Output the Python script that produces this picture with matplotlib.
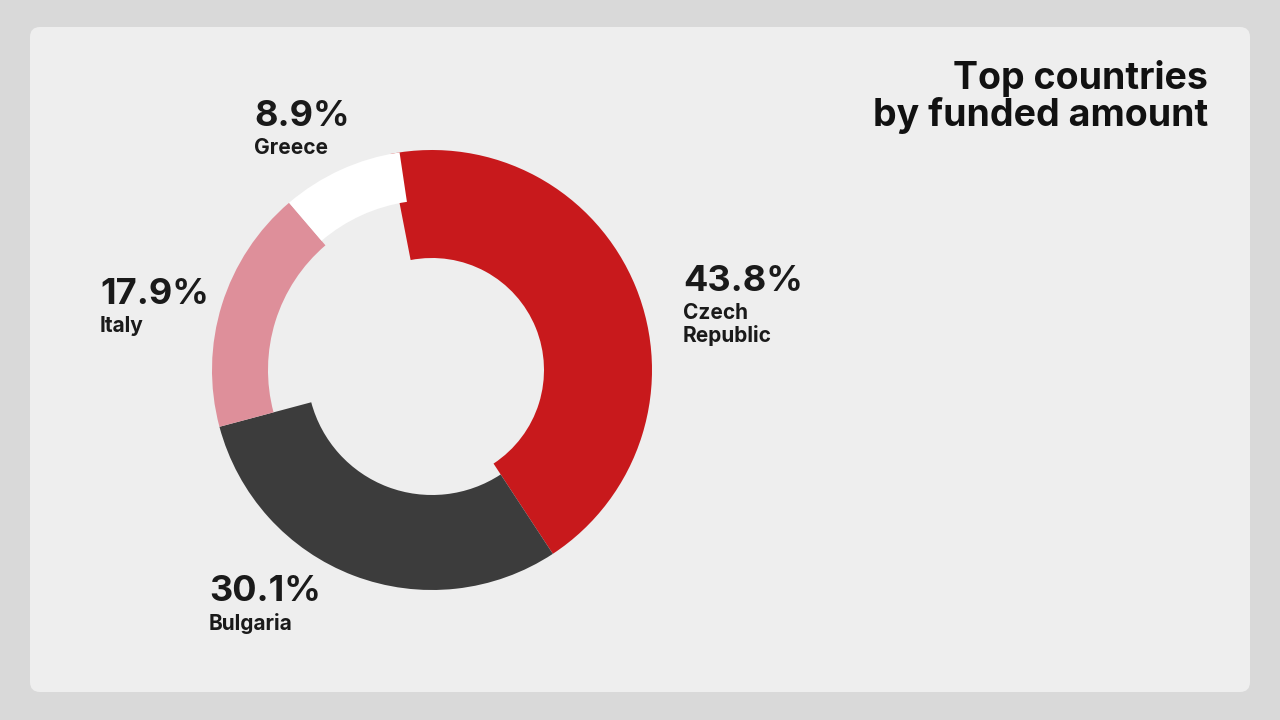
import matplotlib.pyplot as plt
from matplotlib.patches import FancyBboxPatch, Wedge

countries = ["Czech\nRepublic", "Bulgaria", "Italy", "Greece"]
shares = [43.8, 30.1, 17.9, 8.9]
colors = ["#C8191C", "#3C3C3C", "#DE8F9A", "#FFFFFF"]
ring_widths = [108, 95, 56, 50]
# label anchor (pixels, top-left of percentage text)
label_pos = [(683, 265), (209, 575), (100, 278), (254, 100)]

plt.rcParams['font.family'] = ['Inter', 'DejaVu Sans']

fig = plt.figure(figsize=(12.8, 7.2), dpi=100)
fig.patch.set_facecolor("#D9D9D9")
ax = fig.add_axes([0, 0, 1, 1])
ax.set_xlim(0, 1280)
ax.set_ylim(0, 720)
ax.axis("off")

card = FancyBboxPatch((30, 720 - 692), 1220, 665, boxstyle="round,pad=0,rounding_size=10",
                      facecolor="#EEEEEE", edgecolor="none", zorder=0)
ax.add_patch(card)

cx, cy, r = 432, 720 - 370, 220
start = 101.0
for val, col, w in zip(shares, colors, ring_widths):
    end = start - val * 3.6
    ax.add_patch(Wedge((cx, cy), r, end, start, width=w, facecolor=col, edgecolor="none"))
    start = end

for name, val, (x, y) in zip(countries, shares, label_pos):
    ax.text(x, 720 - y, f"{val}%", fontsize=26, fontweight="bold", color="#1A1A1A",
            va="top", ha="left")
    ax.text(x, 720 - y - 38, name, fontsize=15, fontweight="bold", color="#1A1A1A",
            va="top", ha="left", linespacing=1.1)

ax.text(1208, 720 - 60, "Top countries\nby funded amount", fontsize=27, fontweight="bold",
        color="#111111", ha="right", va="top", linespacing=1.0)

fig.savefig("out.png", dpi=100, facecolor=fig.get_facecolor())
